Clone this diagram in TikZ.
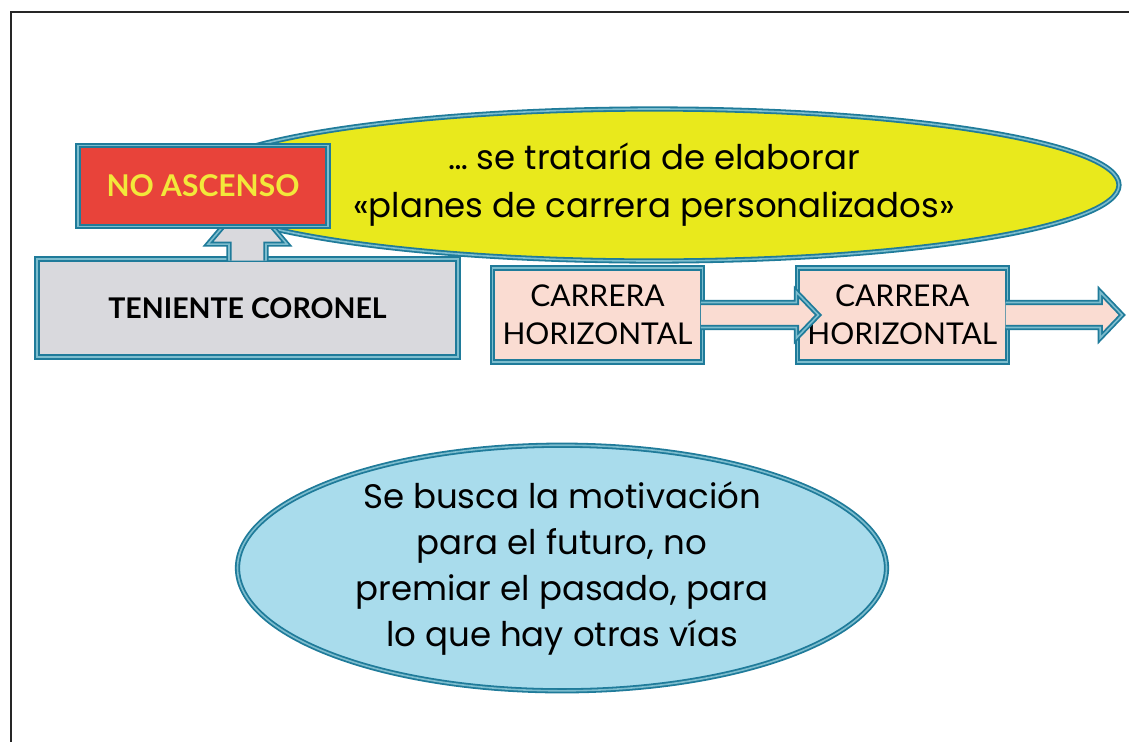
\documentclass[tikz,border=0pt]{standalone}
\usepackage{fontspec}
\setmainfont{Lato}
\newfontfamily\comicfont{Poppins}
\usetikzlibrary{shapes.geometric, calc, positioning}

\definecolor{edgeblue}{HTML}{1F7B9A}
\definecolor{edgelight}{HTML}{7DBDCE}
\definecolor{ovalyellow}{HTML}{E9E91C}
\definecolor{boxred}{HTML}{E8433A}
\definecolor{labelyellow}{HTML}{F2E83A}
\definecolor{boxgray}{HTML}{D9D9DD}
\definecolor{boxpeach}{HTML}{FADCD2}
\definecolor{ovalblue}{HTML}{A9DCEC}

\pgfdeclarelayer{back}
\pgfsetlayers{back,main}

\begin{document}
\begin{tikzpicture}[
  x=1pt, y=-1pt,
  node distance=93pt,
  edge/.style={draw=edgeblue, double=edgelight, double distance=1.6pt,
               line width=1.8pt, line join=miter},
  oval/.style={ellipse, edge, inner sep=0pt, align=center,
               font=\comicfont\fontsize{34}{48}\selectfont},
  rank/.style={rectangle, edge, inner sep=0pt, align=center,
               font=\bfseries\fontsize{30}{34}\selectfont},
  track/.style={rectangle, edge, fill=boxpeach, inner sep=0pt, align=center,
                minimum width=210pt, minimum height=94pt,
                font=\fontsize{30}{38}\selectfont},
]
\useasboundingbox (0,0) rectangle (1129,742);
\draw [line width=2.5pt, black!85] (11,742) -- (11,12) -- (1129,12);

\node (noasc) [rank, fill=boxred, text=labelyellow, minimum width=250pt,
               minimum height=81pt] at (203,186) {NO ASCENSO};

\begin{pgfonlayer}{back}
\node (planes) [oval, fill=ovalyellow, minimum width=930pt, minimum height=152pt]
  at (654,185) {… se trataría de elaborar\\«planes de carrera personalizados»};
\node (tcol) [rank, fill=boxgray, minimum width=421pt, minimum height=98pt,
              font=\bfseries\fontsize{28.5}{34}\selectfont]
  at (247.5,308) {TENIENTE CORONEL};
% block arrow up to the red box (its tip hides behind it)
\draw [edge, fill=boxgray]
  ($(tcol.north)+(-18.5,2.5)$) -- ($(tcol.north)+(-18.5,-14)$)
  -- ($(tcol.north)+(-39.5,-14)$) -- ($(tcol.north |- noasc.south)+(0,-30)$)
  -- ($(tcol.north)+(39.5,-14)$) -- ($(tcol.north)+(18.5,-14)$)
  -- ($(tcol.north)+(18.5,2.5)$);
\end{pgfonlayer}

\node (car1) [track] at (597.5,315) {CARRERA\\HORIZONTAL};
\node (car2) [track, right=of car1] {CARRERA\\HORIZONTAL};
\coordinate (fin) at ($(car2.east)+(92,0)$);
% block arrows along the horizontal career
\foreach \a/\b in {car1/car2.west, car2/fin}
  \draw [edge, fill=boxpeach]
    ($(\a.east)+(-2.5,-12.5)$) -- ($(\b)+(0,-12.5)$) -- ($(\b)+(0,-23)$)
    -- ($(\b)+(22,0)$) -- ($(\b)+(0,23)$) -- ($(\b)+(0,12.5)$)
    -- ($(\a.east)+(-2.5,12.5)$);

\node (motiv) [oval, fill=ovalblue, minimum width=649pt, minimum height=243pt,
               font=\comicfont\fontsize{34}{46}\selectfont] at (562,568)
  {Se busca la motivación\\para el futuro, no\\premiar el pasado, para\\lo que hay otras vías};
\end{tikzpicture}
\end{document}
